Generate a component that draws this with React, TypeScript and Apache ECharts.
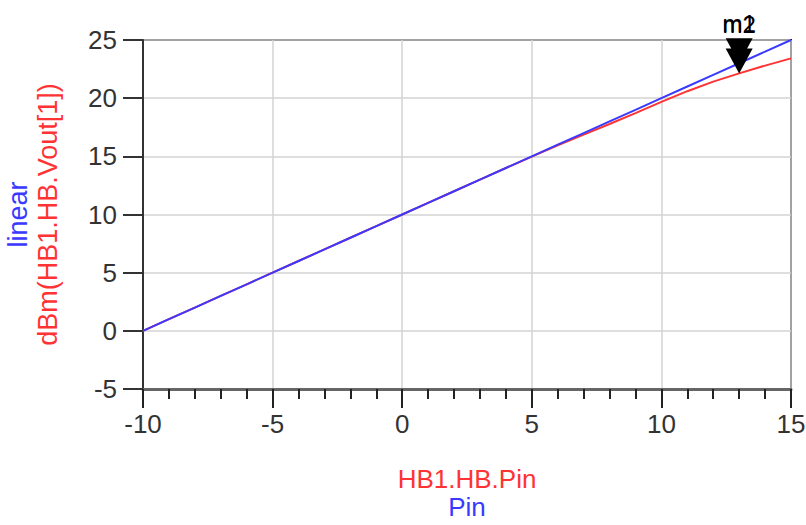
import React, { useEffect, useRef } from "react";
import * as echarts from "echarts";

const PIN: number[] = [-10, -9, -8, -7, -6, -5, -4, -3, -2, -1, 0, 1, 2, 3, 4, 5, 6, 7, 8, 9, 10, 11, 12, 13, 14, 15];
const VOUT_DBM: number[] = [0, 1, 2, 3, 4, 5, 6, 7, 8, 9, 10, 11, 12, 13, 14, 14.98, 15.95, 16.87, 17.78, 18.72, 19.68, 20.6, 21.42, 22.13, 22.8, 23.42];
const LINEAR: number[] = [0, 1, 2, 3, 4, 5, 6, 7, 8, 9, 10, 11, 12, 13, 14, 15, 16, 17, 18, 19, 20, 21, 22, 23, 24, 25];
const MARKER_X = 13;
const X_TITLE_RED = "HB1.HB.Pin";
const X_TITLE_BLUE = "Pin";
const Y_TITLE_BLUE = "linear";
const Y_TITLE_RED = "dBm(HB1.HB.Vout[1])";

const FONT = "'Liberation Sans', Arial, Helvetica, sans-serif";
const RED = "#ff3333";
const BLUE = "#3a3aff";
const TRI = "path://M0,0 L27,0 L13.5,25 Z";

export default function App() {
  const ref = useRef<HTMLDivElement>(null);
  useEffect(() => {
    document.body.style.margin = "0";
    if (!ref.current) return;
    const chart = echarts.init(ref.current, null, { renderer: "svg" });
    const mi = PIN.indexOf(MARKER_X);
    const redData = PIN.map((x, i) => [x, VOUT_DBM[i]]);
    const blueData = PIN.map((x, i) => [x, LINEAR[i]]);
    chart.setOption({
      animation: false,
      backgroundColor: "#ffffff",
      textStyle: { fontFamily: FONT },
      grid: {
        left: 143,
        right: 15,
        top: 40,
        bottom: 136,
        containLabel: false,
        outerBoundsMode: "none",
        show: true,
        borderColor: "#111",
        borderWidth: 2,
        backgroundColor: "transparent",
      },
      xAxis: {
        type: "value",
        min: -10,
        max: 15,
        interval: 5,
        name: `{r|${X_TITLE_RED}}\n{b|${X_TITLE_BLUE}}`,
        nameLocation: "middle",
        nameGap: 76,
        nameTextStyle: {
          rich: {
            r: { color: RED, fontSize: 26, fontFamily: FONT, lineHeight: 28 },
            b: { color: BLUE, fontSize: 26, fontFamily: FONT, lineHeight: 28 },
          },
        },
        axisLine: { onZero: false, lineStyle: { color: "#666", width: 3 } },
        axisTick: { show: true, length: 19, lineStyle: { color: "#222", width: 2 } },
        minorTick: { show: true, splitNumber: 5, length: 10, lineStyle: { color: "#222", width: 2 } },
        splitLine: { show: true, lineStyle: { color: "#d3d3d3", width: 1.5 } },
        axisLabel: { fontSize: 26, color: "#333", margin: 22, fontFamily: FONT, hideOverlap: false },
      },
      yAxis: {
        type: "value",
        min: -5,
        max: 25,
        interval: 5,
        name: `{b|${Y_TITLE_BLUE}}\n{r|${Y_TITLE_RED}}`,
        nameLocation: "middle",
        nameRotate: 90,
        nameGap: 80,
        nameTextStyle: {
          rich: {
            r: { color: RED, fontSize: 27, fontFamily: FONT, lineHeight: 30 },
            b: { color: BLUE, fontSize: 27, fontFamily: FONT, lineHeight: 30 },
          },
        },
        axisLine: { onZero: false, lineStyle: { color: "#333", width: 2 } },
        axisTick: { show: true, length: 20, lineStyle: { color: "#333", width: 2 } },
        splitLine: { show: true, lineStyle: { color: "#d3d3d3", width: 1.5 } },
        axisLabel: { fontSize: 26, color: "#333", margin: 26, fontFamily: FONT },
      },
      series: [
        {
          type: "line",
          data: redData,
          showSymbol: false,
          symbol: "none",
          lineStyle: { color: RED, width: 2 },
          z: 2,
          markPoint: {
            symbol: TRI,
            symbolSize: [27, 25],
            symbolOffset: [0, -12.5],
            itemStyle: { color: "#000" },
            label: {
              show: true,
              position: "top",
              distance: 2,
              offset: [0, -10.4],
              formatter: "m1",
              color: "#000",
              fontSize: 24,
              fontFamily: FONT,
            },
            data: [{ coord: [PIN[mi], VOUT_DBM[mi]] }],
          },
        },
        {
          type: "line",
          data: blueData,
          showSymbol: false,
          symbol: "none",
          lineStyle: { color: BLUE, width: 2 },
          z: 3,
          markPoint: {
            symbol: TRI,
            symbolSize: [27, 25],
            symbolOffset: [0, -12.5],
            itemStyle: { color: "#000" },
            label: {
              show: true,
              position: "top",
              distance: 2,
              formatter: "m2",
              color: "#000",
              fontSize: 24,
              fontFamily: FONT,
            },
            data: [{ coord: [PIN[mi], LINEAR[mi]] }],
          },
        },
      ],
    });
    return () => chart.dispose();
  }, []);
  return <div ref={ref} style={{ width: 806, height: 525 }} />;
}
